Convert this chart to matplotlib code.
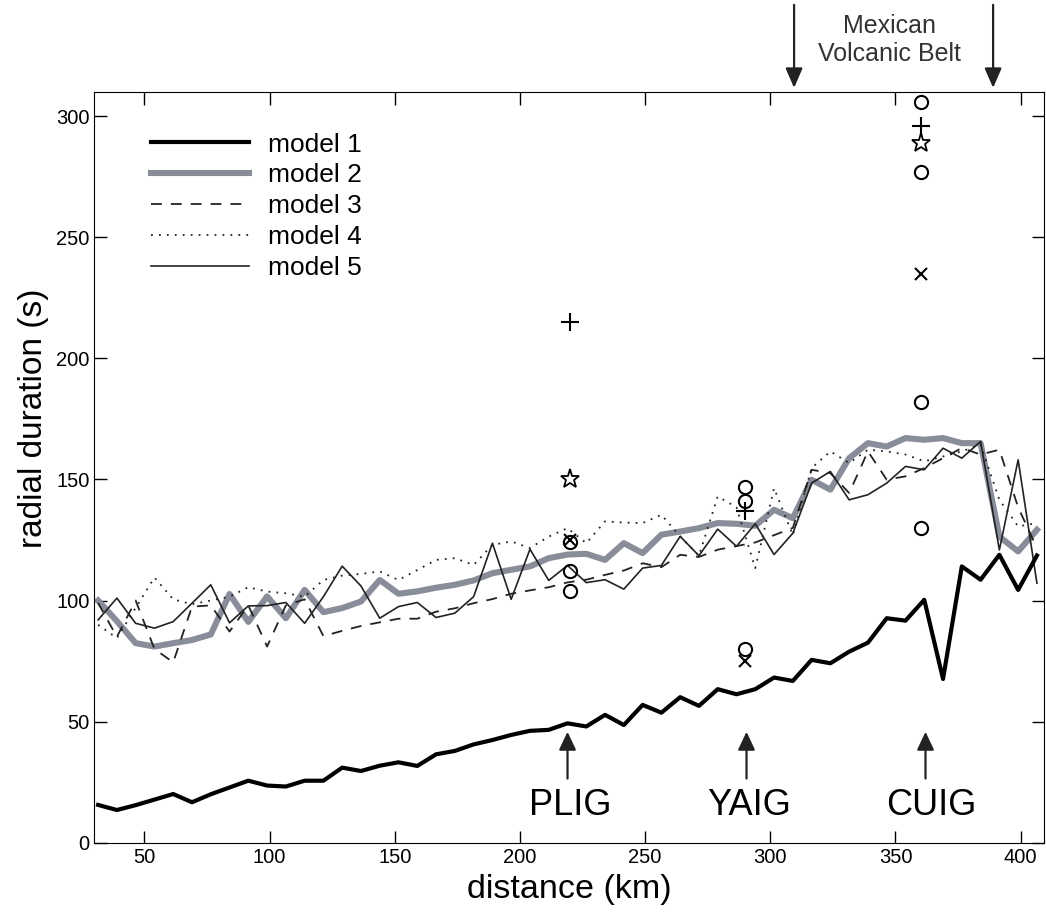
import numpy as np
import matplotlib
matplotlib.use("Agg")
import matplotlib.pyplot as plt

plt.rcParams['font.family'] = ['Liberation Sans', 'DejaVu Sans']

# distance grid (km) shared by all five models
distance = [31.5, 39, 46.5, 54, 61.5, 69, 76.5, 84, 91.5, 99,
            106.5, 114, 121.5, 129, 136.5, 144, 151.5, 159, 166.5, 174,
            181.5, 189, 196.5, 204, 211.5, 219, 226.5, 234, 241.5, 249,
            256.5, 264, 271.5, 279, 286.5, 294, 301.5, 309, 316.5, 324,
            331.5, 339, 346.5, 354, 361.5, 369, 376.5, 384, 391.5, 399,
            406.5]

model1 = [15.6, 13.5, 15.5, 17.8, 20.1, 16.7, 20.0, 22.8, 25.6, 23.6,
          23.2, 25.6, 25.6, 31.0, 29.6, 31.8, 33.2, 31.7, 36.5, 37.9,
          40.6, 42.4, 44.5, 46.2, 46.6, 49.3, 48.0, 52.8, 48.6, 56.9,
          53.7, 60.1, 56.5, 63.4, 61.3, 63.4, 68.2, 66.8, 75.5, 74.1,
          78.9, 82.6, 92.7, 91.7, 100.3, 67.6, 114.1, 108.6, 118.9, 104.4,
          118.6]

model2 = [100, 91.5, 82.4, 81, 82.4, 83.7, 86, 102.7, 91.2, 101.7,
          92.7, 104.4, 95.2, 96.9, 99.6, 108.5, 102.8, 103.8, 105.3, 106.5,
          108.3, 111.3, 112.7, 114.1, 117.5, 119, 119.3, 116.8, 123.7, 119.6,
          127.2, 128.5, 129.9, 132, 131.7, 130.9, 137.5, 134, 149.9, 145.8,
          158.8, 165, 163.6, 167.1, 166.4, 167.1, 165, 165, 126.4, 120.3,
          129.2]

model3 = [99, 85, 100, 80, 74.5, 97.5, 98, 87.2, 98, 81,
          98, 100.5, 85.3, 87.5, 89.5, 91, 92.5, 92.5, 95.4, 96.8,
          98.9, 100.6, 102.8, 104.2, 105.5, 107.5, 108.6, 110.6, 112.4, 115.4,
          113.8, 118.9, 118, 121, 122.5, 124, 127, 130, 154, 152.6,
          144.4, 161.6, 149.9, 151.3, 154.7, 158.8, 163, 160.3, 162.3, 138.5,
          121.7]

model4 = [90, 84.5, 97, 109.5, 100.5, 98.5, 100, 101.6, 105.5, 103.7,
          103, 101.6, 108.5, 110.3, 111, 112, 108.5, 112.6, 116.8, 117.5,
          114.7, 123, 124.4, 121.7, 126.4, 129.9, 123.7, 132.7, 132.2, 132,
          135.4, 126.5, 118.5, 143, 138.5, 113.4, 146.4, 127, 154.7, 161.6,
          156.8, 162.3, 161.6, 160.3, 157.5, 159.5, 161.6, 164.4, 141.6, 130.6,
          132]

model5 = [92, 101, 90.6, 88.6, 91.3, 98.9, 106.5, 90.8, 97.8, 97.9,
          99.2, 90.6, 101.6, 114.2, 106, 92.7, 97.5, 99.2, 93, 94.8,
          101.6, 123.7, 100.5, 121.2, 108.3, 114.5, 107.4, 108.6, 104.7, 113.4,
          114.5, 126.5, 118.5, 129.5, 122.4, 131.7, 119, 127.8, 148.5, 153.3,
          141.6, 143.7, 148.5, 155.4, 154, 162.9, 158.8, 165.7, 120.9, 158.1,
          107.2]

# observed durations at the three stations
circle_km = [220, 220, 220, 290, 290, 290, 360, 360, 360, 360]
circle_val = [124, 112, 104, 147, 141, 80, 306, 277, 182, 130]
plus_km = [220, 290, 360]
plus_val = [215, 137, 296]
cross_km = [220, 290, 360]
cross_val = [125, 75, 235]
star_km = [220, 360]
star_val = [150, 289]

stations = ["PLIG", "YAIG", "CUIG"]
station_km = [219, 290.5, 362]
label_km = [220, 291.5, 364.5]
belt_km = [309.5, 389]

fig = plt.figure(figsize=(10.46, 9.13), dpi=100)
ax = fig.add_axes([0.0902, 0.077, 0.9083, 0.8222])

ax.plot(distance, model1, color='black', lw=3.0, label='model 1', zorder=4)
ax.plot(distance, model2, color='#898d99', lw=4.4, label='model 2', zorder=2)
ax.plot(distance, model3, color='#222222', lw=1.3, dashes=(6, 5), label='model 3', zorder=3)
ax.plot(distance, model4, color='#222222', lw=1.3, dashes=(1, 3.4), label='model 4', zorder=3)
ax.plot(distance, model5, color='#222222', lw=1.2, label='model 5', zorder=3)

mk = dict(linestyle='none', color='black', zorder=5)
ax.plot(circle_km, circle_val, marker='o', ms=9.5, mfc='none', mew=1.5, **mk)
ax.plot(plus_km, plus_val, marker='+', ms=13, mew=1.5, **mk)
ax.plot(cross_km, cross_val, marker='x', ms=8, mew=1.5, **mk)
ax.plot(star_km, star_val, marker='*', ms=14, mfc='white', mew=1.3, **mk)

for name, xa, xl in zip(stations, station_km, label_km):
    ax.annotate('', xy=(xa, 45.8), xytext=(xa, 26.5),
                arrowprops=dict(arrowstyle='-|>,head_length=0.55,head_width=0.26',
                                mutation_scale=20, lw=1.6, color='#222222',
                                shrinkA=0, shrinkB=0))
    ax.text(xl, 11.4, name, ha='center', va='baseline', fontsize=26)

for xb in belt_km:
    ax.annotate('', xy=(xb, 311.7), xytext=(xb, 346),
                annotation_clip=False,
                arrowprops=dict(arrowstyle='-|>,head_length=0.6,head_width=0.26',
                                mutation_scale=20, lw=1.6, color='#222222',
                                shrinkA=0, shrinkB=0))
ax.text(347.5, 322.7, "Mexican\nVolcanic Belt", ha='center', va='baseline',
        fontsize=18, color='#333333', linespacing=1.25)

ax.set_xlim(30, 409.5)
ax.set_ylim(0, 310)
ax.set_xticks([50, 100, 150, 200, 250, 300, 350, 400])
ax.set_yticks([0, 50, 100, 150, 200, 250, 300])
ax.tick_params(direction='in', length=9, width=1, labelsize=14.5,
               top=True, right=True)
ax.set_xlabel("distance (km)", fontsize=24.5, labelpad=5)
ax.set_ylabel("radial duration (s)", fontsize=24)
ax.yaxis.set_label_coords(-0.048, 0.565)

ax.legend(loc='upper left', bbox_to_anchor=(0.0596, 0.946), frameon=False,
          fontsize=19, handlelength=3.7, handletextpad=0.72,
          labelspacing=0.26, borderpad=0, borderaxespad=0)

fig.savefig("out.png", dpi=100)
